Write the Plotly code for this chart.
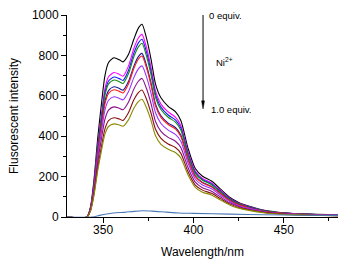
import plotly.graph_objects as go

wavelength = [330, 341, 343, 345, 347, 349, 351, 353, 356, 359, 361, 364, 367, 369.5, 371.5,
              374, 376.5, 379, 382, 386, 390, 393, 397, 401, 405, 410, 415, 420, 425, 430,
              440, 450, 465, 480]

eq_00 = [0, 0, 50, 190, 390, 555, 700, 765, 788, 778, 768, 805, 880, 935, 954,
         885, 782, 658, 590, 548, 522, 478, 340, 240, 202, 178, 138, 98, 72, 56, 32, 21, 14, 10]
eq_01 = [0, 0, 45, 172, 354, 503, 635, 694, 715, 706, 697, 747, 834, 886, 904,
         839, 741, 624, 559, 520, 495, 453, 322, 228, 191, 169, 131, 93, 68, 53, 30, 20, 13, 9]
eq_02 = [0, 0, 44, 167, 343, 488, 616, 673, 693, 685, 676, 725, 811, 862, 880,
         816, 721, 607, 544, 505, 481, 441, 313, 221, 186, 164, 127, 90, 66, 52, 30, 19, 13, 9]
eq_03 = [0, 0, 43, 164, 336, 478, 603, 659, 678, 670, 661, 709, 793, 842, 860,
         797, 705, 593, 532, 494, 470, 431, 306, 216, 182, 160, 124, 88, 65, 50, 29, 19, 13, 9]
eq_04 = [0, 0, 41, 155, 319, 454, 573, 626, 645, 636, 628, 671, 747, 794, 810,
         751, 664, 559, 501, 465, 443, 406, 289, 204, 171, 151, 117, 83, 61, 48, 27, 18, 12, 8]
eq_05 = [0, 0, 40, 152, 312, 444, 560, 612, 630, 622, 614, 658, 735, 781, 797,
         739, 653, 549, 493, 458, 436, 399, 284, 200, 169, 149, 115, 82, 60, 47, 27, 18, 12, 8]
eq_06 = [0, 0, 38, 143, 294, 419, 529, 578, 595, 587, 580, 620, 690, 733, 748,
         694, 613, 516, 463, 430, 409, 375, 267, 188, 158, 140, 108, 77, 56, 44, 25, 17, 11, 8]
eq_07 = [0, 0, 35, 131, 270, 384, 484, 529, 545, 538, 531, 568, 633, 672, 686,
         636, 562, 473, 424, 394, 375, 344, 244, 173, 145, 128, 99, 70, 52, 40, 23, 15, 10, 7]
eq_08 = [0, 0, 31, 118, 243, 346, 436, 477, 491, 485, 478, 516, 580, 616, 629,
         583, 515, 434, 389, 361, 344, 315, 224, 158, 133, 117, 91, 65, 47, 37, 21, 14, 9, 7]
eq_09 = [0, 0, 29, 111, 228, 325, 410, 448, 461, 455, 449, 481, 538, 571, 583,
         541, 478, 402, 360, 335, 319, 292, 208, 147, 123, 109, 84, 60, 44, 34, 20, 13, 9, 6]

base_wavelength = [330, 344, 348, 352, 357, 362, 367, 372, 377, 385, 392, 400, 420, 440, 460, 480]
base_values = [0, 0, 8, 15, 21, 23, 28, 31, 29, 24, 20, 18, 14, 11, 9, 8]

series = [eq_00, eq_01, eq_02, eq_03, eq_04, eq_05, eq_06, eq_07, eq_08, eq_09]
colors = ["#000000", "#ff00ff", "#1a1aff", "#108a10", "#1a1a9a", "#ff1a1a",
          "#9a33ff", "#8a108a", "#8a1010", "#8a8a00"]

fig = go.Figure()
for vals, col in zip(series, colors):
    fig.add_trace(go.Scatter(x=wavelength, y=vals, mode="lines",
                             line=dict(color=col, width=1.1, shape="spline", smoothing=0.7),
                             showlegend=False))
fig.add_trace(go.Scatter(x=base_wavelength, y=base_values, mode="lines",
                         line=dict(color="#4a78b5", width=1.1, shape="spline", smoothing=0.8),
                         showlegend=False))

font = dict(family="Liberation Sans, Arial, sans-serif", size=12, color="#000000")

fig.update_layout(
    width=349, height=259,
    margin=dict(l=67, r=11, t=15, b=42),
    paper_bgcolor="white", plot_bgcolor="white",
    font=font,
    xaxis=dict(range=[330, 480], tick0=350, dtick=50, ticks="outside", ticklen=5,
               tickwidth=1, tickcolor="#000", showline=True, linecolor="#000", linewidth=1,
               showgrid=False, zeroline=False, mirror=False, automargin=False,
               ticklabelstandoff=-3,
               minor=dict(ticks="outside", ticklen=3, dtick=25, tick0=325, tickcolor="#000"),
               title=dict(text="Wavelength/nm", font=font)),
    yaxis=dict(range=[0, 1000], tick0=0, dtick=200, ticks="outside", ticklen=5,
               tickwidth=1, tickcolor="#000", showline=True, linecolor="#000", linewidth=1,
               showgrid=False, zeroline=False, automargin=False,
               minor=dict(ticks="outside", ticklen=3, dtick=100, tickcolor="#000"),
               title=dict(text="Flusorescent intensity", font=font, standoff=10)),
)

# Ni2+ titration arrow (drawn as shapes)
fig.add_shape(type="line", xref="x", yref="y", x0=405.3, x1=405.3, y0=1000, y1=560,
              line=dict(color="#000", width=1))
fig.add_shape(type="path", xref="x", yref="y",
              path="M 404.5 575 L 406.1 575 L 405.3 535 Z",
              fillcolor="#000", line=dict(color="#000", width=0.5))

small = dict(family="Liberation Sans, Arial, sans-serif", size=9.5, color="#000000")
fig.add_annotation(x=407.5, y=1000, xref="x", yref="y", text="0 equiv.", showarrow=False,
                   xanchor="left", yanchor="middle", font=small)
fig.add_annotation(x=411.5, y=767, xref="x", yref="y", text="Ni<sup>2+</sup>", showarrow=False,
                   xanchor="left", yanchor="middle", font=small)
fig.add_annotation(x=408.5, y=530, xref="x", yref="y", text="1.0 equiv.", showarrow=False,
                   xanchor="left", yanchor="middle", font=small)

fig.write_html("out.html", config={"displayModeBar": False},
               post_script="document.body.style.margin='0px';")
